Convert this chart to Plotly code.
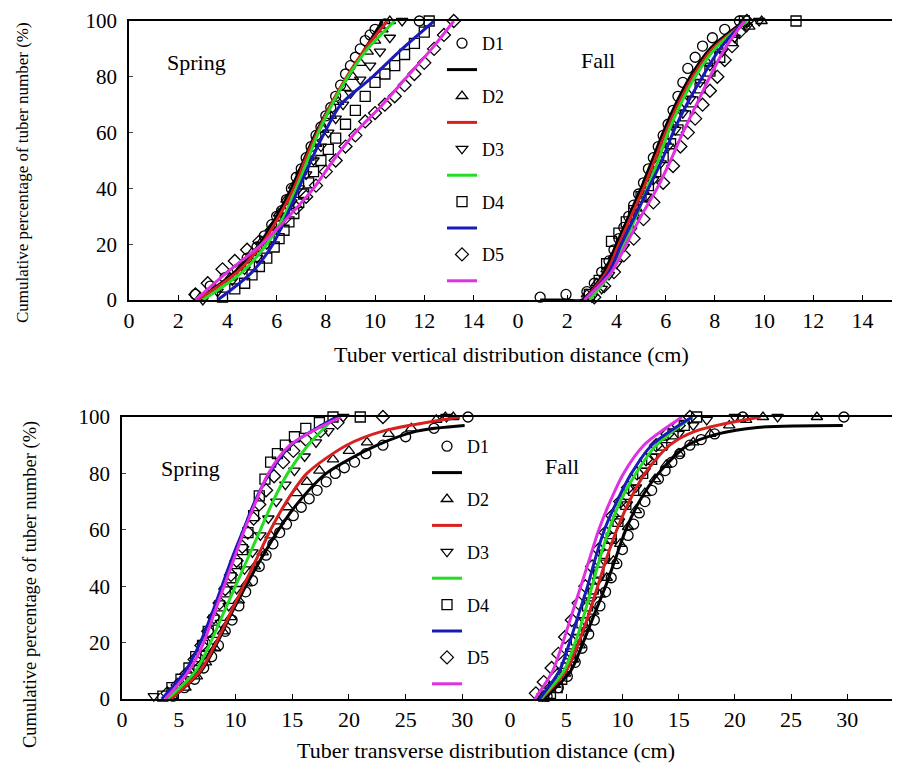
import plotly.graph_objects as go

W, H = 900, 771
PAGE_OFFSET = 8  # default body margin of the html page

names = ["D1", "D2", "D3", "D4", "D5"]
symbols = ["circle-open", "triangle-up-open", "triangle-down-open", "square-open", "diamond-open"]
line_colors = ["#000000", "#d82020", "#22dd22", "#1a1ab8", "#e030e0"]

# ---- vertical distribution, spring (observed points) ----
vs_x = [
    [2.7, 3.3, 3.9, 4.4, 4.8, 5.2, 5.5, 5.8, 6.0, 6.2, 6.4, 6.6, 6.8, 7.0, 7.2, 7.4, 7.6, 7.8, 8.0, 8.2,
     8.4, 8.6, 8.8, 9.0, 9.2, 9.4, 9.6, 9.8, 10.0, 10.4, 11.8],
    [2.9, 3.5, 4.1, 4.6, 5.0, 5.4, 5.8, 6.1, 6.4, 6.7, 7.0, 7.3, 7.6, 7.9, 8.2, 8.5, 8.8, 9.1, 9.4, 9.7,
     10.0, 10.3, 10.6],
    [3.0, 3.6, 4.2, 4.7, 5.2, 5.6, 6.0, 6.3, 6.6, 6.9, 7.2, 7.5, 7.8, 8.1, 8.4, 8.7, 9.0, 9.4, 9.8, 10.2,
     10.6, 11.1],
    [3.8, 4.3, 4.7, 5.0, 5.3, 5.6, 5.9, 6.1, 6.3, 6.5, 6.7, 6.9, 7.1, 7.3, 7.5, 7.8, 8.1, 8.4, 8.8, 9.2,
     9.6, 10.0, 10.4, 10.8, 11.2, 11.6, 12.0, 12.2],
    [2.7, 3.2, 3.8, 4.3, 4.8, 5.3, 5.8, 6.3, 6.8, 7.2, 7.6, 8.0, 8.4, 8.8, 9.2, 9.6, 10.0, 10.4, 10.8, 11.2,
     11.6, 12.0, 12.4, 12.8, 13.2],
]
vs_y = [
    [2, 5, 8, 11, 15, 19, 23, 27, 30, 32, 36, 40, 44, 47, 51, 55, 59, 62, 66, 69,
     73, 77, 81, 84, 87, 90, 93, 95, 97, 99, 100],
    [1, 4, 8, 12, 17, 21, 26, 31, 36, 41, 46, 51, 56, 61, 66, 71, 76, 80, 85, 89,
     93, 97, 100],
    [0, 3, 7, 11, 15, 20, 25, 30, 35, 40, 45, 50, 55, 60, 65, 70, 74, 79, 84, 89,
     94, 100],
    [1, 4, 6, 9, 12, 15, 19, 22, 25, 28, 31, 35, 38, 42, 46, 50, 54, 58, 63, 68,
     73, 78, 81, 84, 88, 92, 96, 100],
    [2, 6, 11, 14, 18, 21, 25, 29, 33, 37, 41, 46, 50, 55, 59, 64, 67, 70, 73, 77,
     81, 85, 90, 95, 100],
]
# fitted curves
vs_fit_x = [
    [2.8, 4.3, 5.3, 6.0, 6.6, 7.1, 7.6, 8.2, 8.9, 9.6, 10.3],
    [2.8, 4.4, 5.4, 6.1, 6.7, 7.15, 7.65, 8.2, 8.85, 9.6, 10.5],
    [3.0, 4.6, 5.6, 6.3, 6.8, 7.25, 7.7, 8.25, 8.9, 9.7, 10.8],
    [3.6, 5.0, 5.85, 6.4, 6.9, 7.4, 7.95, 8.6, 9.9, 11.1, 12.4],
    [2.7, 4.0, 5.4, 6.5, 7.5, 8.3, 9.2, 10.3, 11.3, 12.3, 13.2],
]
vs_fit_y = [[0, 10, 20, 30, 40, 50, 60, 70, 80, 90, 100]] * 5

# ---- vertical distribution, fall ----
vf_x = [
    [0.9, 1.95, 2.8, 3.1, 3.4, 3.7, 3.9, 4.1, 4.3, 4.5, 4.7, 4.9, 5.1, 5.3, 5.5, 5.7, 5.9, 6.1, 6.3, 6.5,
     6.7, 6.9, 7.2, 7.5, 7.9, 8.4, 9.0],
    [2.8, 3.2, 3.6, 3.9, 4.2, 4.5, 4.8, 5.1, 5.4, 5.7, 6.0, 6.3, 6.6, 6.9, 7.3, 7.7, 8.2, 8.8, 9.4, 9.9],
    [3.0, 3.4, 3.7, 4.0, 4.3, 4.6, 4.9, 5.2, 5.5, 5.8, 6.1, 6.4, 6.7, 7.0, 7.4, 7.8, 8.3, 8.8, 9.3, 9.8],
    [2.9, 3.3, 3.6, 3.8, 4.1, 4.4, 4.7, 5.0, 5.3, 5.6, 5.9, 6.2, 6.5, 6.8, 7.1, 7.4, 7.8, 8.2, 8.7, 9.2,
     11.3],
    [3.1, 3.5, 3.9, 4.3, 4.7, 5.1, 5.5, 5.9, 6.3, 6.6, 6.9, 7.2, 7.5, 7.8, 8.1, 8.4, 8.7, 9.0, 9.3],
]
vf_y = [
    [1, 2, 3, 6, 10, 14, 18, 22, 26, 30, 34, 38, 42, 47, 51, 55, 59, 63, 68, 73,
     78, 83, 87, 91, 94, 97, 100],
    [2, 6, 11, 16, 21, 27, 33, 39, 45, 51, 57, 63, 69, 74, 80, 85, 90, 95, 98, 100],
    [1, 4, 9, 13, 19, 25, 31, 37, 43, 49, 55, 61, 67, 72, 78, 84, 89, 94, 98, 100],
    [2, 7, 13, 21, 24, 28, 32, 37, 41, 46, 51, 56, 61, 66, 71, 76, 82, 87, 93, 100,
     100],
    [1, 5, 10, 16, 22, 29, 35, 42, 48, 55, 60, 65, 70, 75, 80, 86, 91, 96, 100],
]
vf_fit_x = [
    [0.9, 2.0, 2.6, 3.5, 4.0, 4.5, 5.0, 5.45, 5.9, 6.4, 7.0, 7.8, 9.2],
    [2.7, 3.6, 4.1, 4.6, 5.1, 5.55, 6.0, 6.5, 7.1, 7.9, 9.3],
    [2.9, 3.8, 4.3, 4.8, 5.25, 5.7, 6.1, 6.6, 7.2, 8.0, 9.3],
    [2.7, 3.7, 4.2, 4.75, 5.3, 5.85, 6.3, 6.85, 7.5, 8.2, 9.2],
    [2.7, 3.8, 4.4, 5.0, 5.65, 6.2, 6.7, 7.25, 7.8, 8.4, 9.2],
]
vf_fit_y = [
    [0, 0, 0, 10, 20, 30, 40, 50, 60, 70, 80, 90, 100],
    [0, 10, 20, 30, 40, 50, 60, 70, 80, 90, 100],
    [0, 10, 20, 30, 40, 50, 60, 70, 80, 90, 100],
    [0, 10, 20, 30, 40, 50, 60, 70, 80, 90, 100],
    [0, 10, 20, 30, 40, 50, 60, 70, 80, 90, 100],
]

# ---- transverse distribution, spring ----
ts_x = [
    [4.5, 5.5, 6.4, 7.2, 7.9, 8.5, 9.1, 9.7, 10.3, 10.9, 11.5, 12.1, 12.7, 13.3, 13.9, 14.5, 15.1, 15.8,
     16.5, 17.2, 18.0, 18.8, 19.6, 20.5, 21.5, 23.0, 25.0, 27.5, 30.5],
    [4.4, 5.6, 6.6, 7.4, 8.2, 8.9, 9.6, 10.3, 11.0, 11.7, 12.4, 13.1, 13.8, 14.6, 15.4, 16.3, 17.4, 18.6,
     20.0, 21.6, 23.5, 25.5, 27.7, 28.5, 29.2],
    [2.8, 4.5, 5.6, 6.5, 7.3, 8.0, 8.7, 9.4, 10.1, 10.8, 11.5, 12.2, 12.9, 13.6, 14.4, 15.2, 16.1, 17.1,
     18.2, 19.5, 28.6],
    [3.6, 4.4, 5.2, 5.9, 6.5, 7.1, 7.6, 8.1, 8.6, 9.1, 9.6, 10.1, 10.6, 11.1, 11.6, 12.1, 12.6, 13.1,
     13.7, 14.4, 15.2, 16.2, 17.4, 18.6, 21.0],
    [4.0, 4.9, 5.7, 6.4, 7.0, 7.6, 8.1, 8.6, 9.1, 9.6, 10.1, 10.6, 11.1, 11.6, 12.1, 12.7, 13.4, 14.2,
     15.1, 16.2, 17.5, 19.0, 23.0],
]
ts_y = [
    [1, 4, 7, 11, 15, 19, 24, 28, 33, 38, 42, 47, 51, 55, 59, 62, 65, 68,
     71, 74, 77, 80, 82, 84, 87, 90, 93, 96, 100],
    [1, 4, 8, 13, 18, 24, 29, 35, 41, 47, 52, 58, 63, 68, 73, 77, 81, 85,
     88, 91, 94, 96, 99, 100, 100],
    [1, 3, 7, 11, 16, 21, 27, 33, 39, 46, 52, 58, 64, 70, 76, 81, 86, 91,
     95, 100, 100],
    [1, 4, 7, 11, 15, 19, 24, 28, 33, 38, 43, 48, 53, 59, 65, 72, 78, 84,
     87, 90, 93, 96, 98, 100, 100],
    [2, 5, 9, 14, 19, 24, 29, 34, 39, 44, 49, 54, 59, 64, 69, 74, 79, 84,
     88, 92, 95, 98, 100],
]
ts_fit_x = [
    [4.3, 7.0, 8.4, 9.6, 10.9, 12.3, 13.8, 15.6, 18.0, 22.5, 26.0, 30.2],
    [4.3, 6.9, 8.3, 9.5, 10.7, 11.9, 13.1, 14.5, 16.3, 19.8, 23.0, 29.8],
    [4.0, 6.5, 7.8, 8.9, 10.0, 11.1, 12.2, 13.3, 14.6, 16.4, 18.8],
    [3.5, 5.6, 6.9, 7.9, 8.8, 9.7, 10.7, 11.7, 13.0, 14.9, 18.9],
    [3.8, 5.9, 7.2, 8.1, 9.0, 9.9, 10.8, 11.8, 12.9, 14.8, 19.3],
]
ts_fit_y = [
    [0, 10, 20, 30, 40, 50, 60, 70, 80, 90, 95, 97],
    [0, 10, 20, 30, 40, 50, 60, 70, 80, 90, 95, 100],
    [0, 10, 20, 30, 40, 50, 60, 70, 80, 90, 100],
    [0, 10, 20, 30, 40, 50, 60, 70, 80, 90, 100],
    [0, 10, 20, 30, 40, 50, 60, 70, 80, 90, 100],
]

# ---- transverse distribution, fall ----
tf_x = [
    [3.3, 4.3, 5.1, 5.8, 6.4, 7.0, 7.5, 8.0, 8.5, 9.0, 9.5, 10.0, 10.5, 11.0, 11.5, 12.0, 12.6, 13.2,
     13.8, 14.4, 15.1, 16.0, 17.0, 18.2, 20.7, 29.7],
    [3.0, 4.0, 4.9, 5.6, 6.2, 6.8, 7.4, 8.0, 8.6, 9.2, 9.8, 10.5, 11.2, 12.0, 12.9, 13.9, 15.0, 16.3,
     17.8, 19.5, 21.0, 22.5, 27.3],
    [2.9, 3.9, 4.7, 5.4, 6.0, 6.6, 7.2, 7.8, 8.4, 9.0, 9.7, 10.4, 11.2, 12.0, 12.9, 13.9, 15.0, 16.3,
     17.5, 20.0, 23.8],
    [3.0, 3.6, 4.2, 4.6, 5.0, 5.4, 5.9, 6.4, 6.9, 7.4, 7.9, 8.4, 9.0, 9.6, 10.3, 11.0, 11.8, 12.6,
     13.5, 14.5, 15.5, 16.6],
    [2.3, 3.0, 3.7, 4.3, 4.9, 5.5, 6.1, 6.7, 7.3, 7.9, 8.5, 9.1, 9.8, 10.5, 11.3, 12.1, 13.0, 14.0,
     15.0, 16.0],
]
tf_y = [
    [1, 4, 8, 13, 18, 23, 28, 33, 38, 43, 48, 53, 58, 62, 66, 70, 74, 78,
     81, 84, 87, 90, 92, 94, 100, 100],
    [1, 5, 9, 14, 19, 25, 31, 37, 43, 49, 55, 61, 67, 73, 78, 83, 87, 91,
     94, 97, 99, 100, 100],
    [1, 5, 10, 16, 22, 28, 35, 42, 49, 56, 63, 69, 75, 81, 86, 90, 94, 97,
     99, 100, 100],
    [1, 2, 4, 7, 11, 16, 21, 27, 33, 39, 45, 51, 57, 63, 69, 74, 80, 85,
     90, 94, 97, 100],
    [2, 6, 11, 16, 22, 28, 34, 40, 47, 53, 59, 65, 70, 75, 80, 85, 90, 94,
     97, 100],
]
tf_fit_x = [
    [3.0, 5.4, 6.5, 7.5, 8.5, 9.4, 10.3, 11.5, 13.2, 15.8, 18.5, 22.0, 29.6],
    [2.8, 5.0, 6.1, 7.0, 7.8, 8.6, 9.5, 10.6, 12.0, 14.2, 16.5, 22.3],
    [2.7, 4.8, 5.8, 6.6, 7.3, 8.0, 8.8, 9.8, 11.2, 13.0, 16.2],
    [2.6, 4.4, 5.3, 6.1, 6.9, 7.6, 8.4, 9.5, 10.8, 12.6, 16.2],
    [2.2, 3.8, 4.7, 5.5, 6.3, 7.1, 7.9, 8.9, 10.1, 11.9, 15.3],
]
tf_fit_y = [
    [0, 10, 20, 30, 40, 50, 60, 70, 80, 90, 94, 96.3, 97],
    [0, 10, 20, 30, 40, 50, 60, 70, 80, 90, 95, 100],
    [0, 10, 20, 30, 40, 50, 60, 70, 80, 90, 100],
    [0, 10, 20, 30, 40, 50, 60, 70, 80, 90, 100],
    [0, 10, 20, 30, 40, 50, 60, 70, 80, 90, 100],
]

FONT = "Liberation Serif, Times New Roman, serif"

fig = go.Figure()

panels = [
    # (points x, points y, fit x, fit y, xaxis, yaxis, legend)
    (vs_x, vs_y, vs_fit_x, vs_fit_y, "x", "y", "legend"),
    (vf_x, vf_y, vf_fit_x, vf_fit_y, "x2", "y2", "legend"),
    (ts_x, ts_y, ts_fit_x, ts_fit_y, "x3", "y3", "legend2"),
    (tf_x, tf_y, tf_fit_x, tf_fit_y, "x4", "y4", "legend2"),
]

for p, (px, py, fx, fy, xa, ya, lg) in enumerate(panels):
    first = p in (0, 2)
    for i in range(5):
        fig.add_trace(go.Scatter(
            x=px[i], y=py[i], mode="markers", xaxis=xa, yaxis=ya,
            name=names[i], legend=lg, legendrank=10 + 2 * i, showlegend=first,
            marker=dict(symbol=symbols[i], size=10, color="black", line=dict(width=1.3, color="black")),
            cliponaxis=False))
    for i in range(5):
        fig.add_trace(go.Scatter(
            x=fx[i], y=fy[i], mode="lines", xaxis=xa, yaxis=ya,
            name=" ", legend=lg, legendrank=11 + 2 * i, showlegend=first,
            line=dict(color=line_colors[i], width=3, shape="spline", smoothing=0.8),
            cliponaxis=False))

# page pixel -> paper fraction (page is offset by the body margin)
def px2x(v):
    return (v - PAGE_OFFSET) / W

def px2y(v):
    return 1 - (v - PAGE_OFFSET) / H

top_dom = [px2y(300), px2y(21)]
bot_dom = [px2y(699), px2y(417)]

xcommon = dict(showline=True, linecolor="black", linewidth=1.5, mirror=True, ticks="inside",
               ticklen=5, tickcolor="black", showgrid=False, zeroline=False,
               tickfont=dict(family=FONT, size=22, color="black"))
ycommon = dict(range=[0, 100], showgrid=False, zeroline=False)
yticks = dict(showline=True, linecolor="black", linewidth=1.5, ticks="inside", ticklen=4,
              tickvals=[0, 20, 40, 60, 80, 100], ticklabelstandoff=6, ticklabeloverflow="allow",
              tickfont=dict(family=FONT, size=21, color="black"))

fig.update_layout(
    width=W, height=H, margin=dict(l=0, r=0, t=0, b=0, autoexpand=False),
    plot_bgcolor="white", paper_bgcolor="white",
    font=dict(family=FONT, color="black"),
    xaxis=dict(domain=[px2x(129), px2x(518)], range=[0, 15.81], tickvals=[0, 2, 4, 6, 8, 10, 12, 14],
               anchor="y", **xcommon),
    xaxis2=dict(domain=[px2x(518), 1], range=[0, 15.85], tickvals=[0, 2, 4, 6, 8, 10, 12, 14],
                anchor="y2", **xcommon),
    xaxis3=dict(domain=[px2x(122), px2x(510)], range=[0, 34.2], tickvals=[0, 5, 10, 15, 20, 25, 30],
                anchor="y3", **xcommon),
    xaxis4=dict(domain=[px2x(510), 1], range=[0, 35.4], tickvals=[0, 5, 10, 15, 20, 25, 30],
                anchor="y4", **xcommon),
    yaxis=dict(domain=top_dom, anchor="x", **yticks, **ycommon),
    yaxis2=dict(domain=top_dom, anchor="x2", showticklabels=False, showline=False, **ycommon),
    yaxis3=dict(domain=bot_dom, anchor="x3", **yticks, **ycommon),
    yaxis4=dict(domain=bot_dom, anchor="x4", showticklabels=False, showline=False, **ycommon),
    legend=dict(x=px2x(442), y=px2y(25), xanchor="left", yanchor="top", bgcolor="rgba(0,0,0,0)",
                font=dict(family=FONT, size=18, color="black"), traceorder="normal"),
    legend2=dict(x=px2x(427), y=px2y(428), xanchor="left", yanchor="top", bgcolor="rgba(0,0,0,0)",
                 font=dict(family=FONT, size=18, color="black"), traceorder="normal"),
)

texts = [
    ("Spring", 196, 63, 22, 0),
    ("Fall", 598, 61, 22, 0),
    ("Spring", 190, 468, 22, 0),
    ("Fall", 562, 466, 22, 0),
    ("Tuber vertical distribution distance (cm)", 511, 355, 22, 0),
    ("Tuber transverse distribution distance (cm)", 486, 750, 22, 0),
    ("Cumulative percentage of tuber number (%)", 22, 173, 17, -90),
    ("Cumulative percentage of tuber number (%)", 30, 585, 18.5, -90),
]
for t, x, y, s, a in texts:
    fig.add_annotation(text=t, x=px2x(x), y=px2y(y), xref="paper", yref="paper",
                       showarrow=False, textangle=a, xanchor="center", yanchor="middle",
                       font=dict(family=FONT, size=s, color="black"))

fig.write_html("out.html")
